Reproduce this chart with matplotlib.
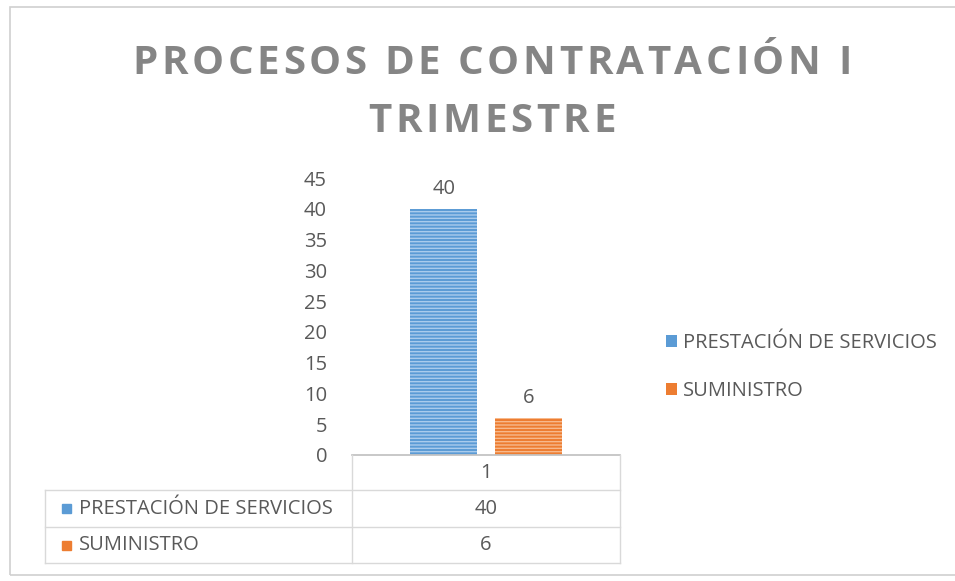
import matplotlib
matplotlib.use("Agg")
import matplotlib.pyplot as plt
from matplotlib.font_manager import FontProperties
from matplotlib.lines import Line2D
from matplotlib.patches import Rectangle
import numpy as np

plt.rcParams["font.family"] = ["Open Sans", "DejaVu Sans"]
plt.rcParams["hatch.linewidth"] = 1.0

title_lines = ["PROCESOS DE CONTRATACIÓN I", "TRIMESTRE"]
categories = ["1"]
series_names = ["PRESTACIÓN DE SERVICIOS", "SUMINISTRO"]
series_values = [40, 6]
series_colors = ["#5b9bd5", "#ed7d31"]
hatch_colors = ["#a9cbec", "#f7b98c"]
y_ticks = [0, 5, 10, 15, 20, 25, 30, 35, 40, 45]

W, H = 955, 581
fig = plt.figure(figsize=(W / 100, H / 100), dpi=100)
fig.patch.set_facecolor("white")


def fx(px):
    return px / W


def fy(py):
    return 1 - py / H


text_gray = "#595959"
grid_gray = "#d9d9d9"
fs = 14.5

# outer chart frame
fig.patches.append(Rectangle((fx(10), fy(575)), fx(955) - fx(10) + 0.01, fy(7) - fy(575),
                             transform=fig.transFigure, fill=False,
                             edgecolor="#d0d0d0", linewidth=1.2))


def spaced_text(s, xc, ybase, tracking, prop, color):
    """Draw a string centred on xc, sitting on baseline ybase (pixels), with letter spacing."""
    renderer = fig.canvas.get_renderer()
    widths = [renderer.get_text_width_height_descent(ch, prop, ismath=False)[0] for ch in s]
    total = sum(widths) + tracking * (len(s) - 1)
    x = xc - total / 2
    for ch, w in zip(s, widths):
        fig.text(fx(x), fy(ybase), ch, fontproperties=prop, color=color,
                 ha="left", va="baseline")
        x += w + tracking


title_prop = FontProperties(family=["Open Sans", "DejaVu Sans"], size=29, weight="bold")
spaced_text(title_lines[0], 492, 74, 3.6, title_prop, "#858585")
spaced_text(title_lines[1], 492, 132, 3.6, title_prop, "#858585")

ax = fig.add_axes([fx(352), fy(455), fx(620) - fx(352), fy(178) - fy(455)])
ax.set_xlim(0, 1)
ax.set_ylim(0, 45)

n = len(series_values)
width = 0.25
gap = 0.065
centers = 0.5 + (np.arange(n) - (n - 1) / 2) * (width + gap)
for xc, v, c, hc, name in zip(centers, series_values, series_colors, hatch_colors, series_names):
    ax.bar(xc, v, width=width, color=c, edgecolor=hc, hatch="-----", linewidth=0, label=name)
    ax.text(xc, v + 1.6, str(v), ha="center", va="bottom", fontsize=fs, color=text_gray)

ax.set_yticks(y_ticks)
ax.tick_params(axis="y", length=0, labelsize=fs, labelcolor=text_gray, pad=18)
ax.set_xticks([])
for side in ["top", "right", "left"]:
    ax.spines[side].set_visible(False)
ax.spines["bottom"].set_color("#bfbfbf")
ax.spines["bottom"].set_linewidth(1.2)

# data table under the axis
row_y = [455, 490, 527, 563]
line_kw = dict(transform=fig.transFigure, color=grid_gray, linewidth=1)
for y in row_y[1:]:
    fig.add_artist(Line2D([fx(45), fx(620)], [fy(y), fy(y)], **line_kw))
fig.add_artist(Line2D([fx(45), fx(45)], [fy(490), fy(563)], **line_kw))
fig.add_artist(Line2D([fx(352), fx(352)], [fy(455), fy(563)], **line_kw))
fig.add_artist(Line2D([fx(620), fx(620)], [fy(455), fy(563)], **line_kw))

col_x = fx(486)
fig.text(col_x, fy(473), categories[0], ha="center", va="center", fontsize=fs, color=text_gray)
for i, (name, v, c) in enumerate(zip(series_names, series_values, series_colors)):
    yc = fy((row_y[i + 1] + row_y[i + 2]) / 2)
    fig.text(col_x, yc, str(v), ha="center", va="center", fontsize=fs, color=text_gray)
    fig.patches.append(Rectangle((fx(62), yc - 4.5 / H), fx(9), 9 / H,
                                 transform=fig.transFigure, color=c))
    fig.text(fx(79), yc, name, ha="left", va="center", fontsize=fs, color=text_gray)

# legend at right
leg = ax.legend(loc="center left", bbox_to_anchor=(fx(648), fy(367)),
                bbox_transform=fig.transFigure, frameon=False, fontsize=fs,
                handlelength=0.55, handleheight=0.55, handletextpad=0.3,
                labelspacing=1.4, labelcolor=text_gray)
for h, c in zip(leg.legend_handles, series_colors):
    h.set_hatch(None)
    h.set_facecolor(c)

fig.savefig("out.png", dpi=100)
